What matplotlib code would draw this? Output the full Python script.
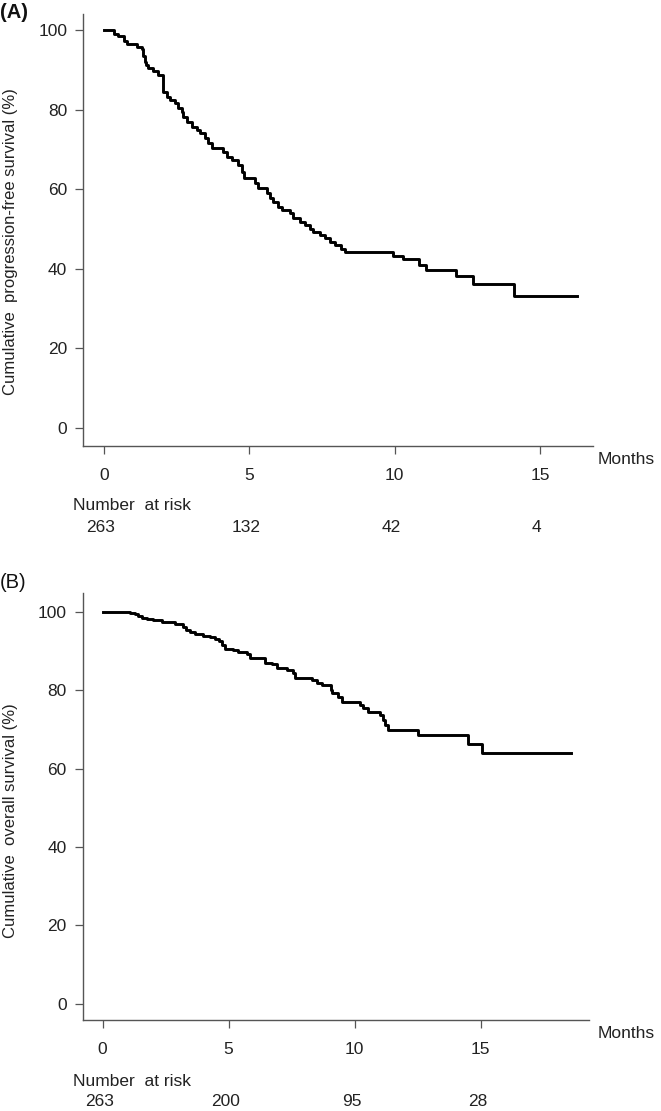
import matplotlib
matplotlib.use("Agg")
import matplotlib.pyplot as plt
from matplotlib.transforms import blended_transform_factory

plt.rcParams['font.family'] = ['Liberation Sans', 'DejaVu Sans']

# Panel A: progression-free survival (months, %)
pfs_months = [0, 0.34, 0.48, 0.69, 0.78, 1.12, 1.30, 1.34, 1.40, 1.45, 1.51, 1.70, 1.87,
              2.04, 2.16, 2.27, 2.44, 2.56, 2.67, 2.73, 2.84, 3.02, 3.19, 3.30, 3.47,
              3.59, 3.70, 4.10, 4.22, 4.39, 4.62, 4.74, 4.82, 5.19, 5.31, 5.60, 5.71,
              5.82, 6.00, 6.11, 6.40, 6.51, 6.74, 6.91, 7.09, 7.20, 7.43, 7.60, 7.77,
              7.95, 8.15, 8.29, 9.93, 10.28, 10.85, 11.08, 12.11, 12.68, 14.11, 16.26]
pfs_pct = [100, 99.1, 98.6, 97.4, 96.5, 95.9, 95.3, 93.5, 92.0, 91.2, 90.5, 89.8, 88.8,
           84.6, 83.3, 82.5, 81.7, 80.6, 79.6, 78.3, 77.1, 75.8, 75.0, 74.1, 72.9,
           71.6, 70.5, 69.5, 68.3, 67.4, 66.2, 64.5, 62.8, 61.6, 60.5, 59.0, 57.8,
           56.9, 55.7, 54.8, 54.0, 52.9, 51.9, 51.1, 50.1, 49.2, 48.6, 47.7, 46.9,
           46.0, 45.1, 44.2, 43.3, 42.4, 40.9, 39.7, 38.2, 36.1, 33.1, 33.1]
pfs_risk = ["263", "132", "42", "4"]

# Panel B: overall survival (months, %)
os_months = [0, 1.08, 1.28, 1.42, 1.55, 1.75, 2.00, 2.34, 2.87, 3.20, 3.29, 3.46, 3.66,
             3.99, 4.26, 4.46, 4.62, 4.75, 4.86, 5.18, 5.38, 5.72, 5.85, 6.44, 6.71,
             6.91, 7.30, 7.57, 7.63, 8.29, 8.49, 8.69, 9.05, 9.12, 9.35, 9.48, 10.21,
             10.34, 10.54, 11.00, 11.11, 11.20, 11.33, 12.53, 14.51, 15.07, 18.58]
os_pct = [100, 99.8, 99.4, 98.9, 98.5, 98.1, 97.9, 97.4, 96.9, 96.2, 95.3, 94.9, 94.5,
          94.0, 93.6, 93.2, 92.5, 91.7, 90.6, 90.2, 89.8, 89.4, 88.3, 87.0, 86.6,
          85.7, 85.1, 84.5, 83.1, 82.6, 81.9, 81.3, 80.0, 79.2, 78.3, 77.0, 76.3,
          75.5, 74.5, 73.6, 72.4, 71.2, 69.8, 68.5, 66.4, 64.1, 64.1]
os_risk = ["263", "200", "95", "28"]

risk_times = [0, 5, 10, 15]
yticks = [0, 20, 40, 60, 80, 100]

W, H = 661, 1111
FS = 12.5
fig = plt.figure(figsize=(W / 100, H / 100), dpi=100)

def px(x, y):
    # pixel coords from top-left -> figure fraction
    return x / W, 1 - y / H

def panel(box, xlim, ylim, months, pct, ylabel, risk, tag, tag_bold,
          tag_y, months_y, nar_y, num_y, ylab_x, ylab_y):
    l, t, r, b = box
    ax = fig.add_axes([l / W, 1 - b / H, (r - l) / W, (b - t) / H])
    ax.step(months, pct, where='post', color='black', lw=2.1)
    ax.set_xlim(*xlim)
    ax.set_ylim(*ylim)
    for s in ['top', 'right']:
        ax.spines[s].set_visible(False)
    for s in ['left', 'bottom']:
        ax.spines[s].set_color('#555555')
        ax.spines[s].set_linewidth(1.0)
    ax.set_xticks(risk_times)
    ax.set_yticks(yticks)
    ax.tick_params(axis='both', direction='out', length=5.5, width=0.9,
                   color='#555555', labelsize=FS, labelcolor='#222222')
    ax.tick_params(axis='x', pad=10)
    ax.tick_params(axis='y', pad=6)

    fig.text(*px(ylab_x, ylab_y), ylabel, rotation=90, ha='center', va='center',
             fontsize=12, color='#222222')
    fig.text(*px(0, tag_y), tag, ha='left', va='center', fontsize=14.5,
             fontweight='bold' if tag_bold else 'normal', color='#111111')
    fig.text(*px(598, months_y), "Months", ha='left', va='center',
             fontsize=FS, color='#222222')
    fig.text(*px(73, nar_y), "Number  at risk", ha='left', va='center',
             fontsize=FS, color='#222222')
    tr = blended_transform_factory(ax.transData, fig.transFigure)
    for tm, n in zip(risk_times, risk):
        ax.text(tm - 0.12, 1 - num_y / H, n, transform=tr, ha='center', va='center',
                fontsize=FS, color='#222222')
    return ax

panel((83.3, 14, 593, 446), (-0.712, 16.82), (-4.53, 104.15), pfs_months, pfs_pct,
      "Cumulative  progression-free survival (%)", pfs_risk, "(A)", True,
      12, 460, 506, 527, 11, 242)

panel((82.7, 593, 589, 1020), (-0.79, 19.3), (-4.16, 104.85), os_months, os_pct,
      "Cumulative  overall survival (%)", os_risk, "(B)", False,
      583, 1034, 1081, 1101, 11, 821)

fig.savefig("out.png", dpi=100)
